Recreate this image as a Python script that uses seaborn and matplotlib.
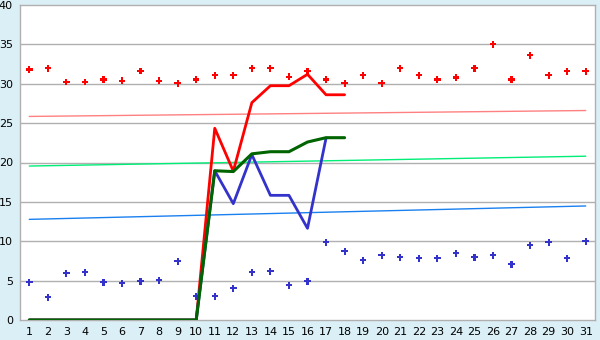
import matplotlib
matplotlib.use("Agg")
import matplotlib.pyplot as plt
import seaborn as sns
import pandas as pd

days = list(range(1, 32))

red_points = [31.8, 31.95, 30.2, 30.2, 30.55, 30.4, 31.6, 30.4, 30.05, 30.55,
              31.07, 31.07, 31.95, 31.95, 30.9, 31.58, 30.55, 30.05, 31.07, 30.05,
              31.95, 31.07, 30.55, 30.8, 31.95, 35.0, 30.55, 33.6, 31.07, 31.58, 31.58]
blue_points = [4.78, 2.88, 5.93, 6.05, 4.78, 4.65, 4.91, 5.04, 7.45, 3.0,
               3.0, 4.02, 6.05, 6.18, 4.4, 4.91, 9.86, 8.72, 7.58, 8.21,
               7.96, 7.83, 7.83, 8.46, 7.96, 8.21, 7.07, 9.48, 9.86, 7.83, 9.99]

red_line_days = list(range(1, 19))
red_line = [0, 0, 0, 0, 0, 0, 0, 0, 0, 0, 24.35, 18.9, 27.6, 29.75, 29.75, 31.2, 28.6, 28.6]
green_line_days = list(range(1, 19))
green_line = [0, 0, 0, 0, 0, 0, 0, 0, 0, 0, 18.95, 18.85, 21.1, 21.37, 21.37, 22.6, 23.15, 23.15]
blue_line_days = list(range(1, 18))
blue_line = [0, 0, 0, 0, 0, 0, 0, 0, 0, 0, 18.95, 14.77, 21.0, 15.83, 15.83, 11.64, 23.1]

trend_days = [1, 31]
trend_red = [25.85, 26.6]
trend_green = [19.55, 20.8]
trend_blue = [12.78, 14.48]

yticks = [0, 5, 10, 15, 20, 25, 30, 35, 40]

sns.set_style("white")
plt.rcParams['font.family'] = ['DejaVu Sans']

bg = "#dbeff6"
grid_c = "#b0b0b0"

fig = plt.figure(figsize=(6, 3.4), dpi=100, facecolor=bg)
ax = fig.add_axes([20 / 600, 20 / 340, 575 / 600, 315 / 340])
ax.set_facecolor("white")

for yv in yticks[1:-1]:
    ax.axhline(yv, color=grid_c, lw=1.0, zorder=0)

# trend lines
sns.lineplot(x=trend_days, y=trend_red, color="#ff8080", lw=1.0, ax=ax, zorder=1)
sns.lineplot(x=trend_days, y=trend_green, color="#00ee77", lw=1.0, ax=ax, zorder=1)
sns.lineplot(x=trend_days, y=trend_blue, color="#1a80f0", lw=1.0, ax=ax, zorder=1)

# scatter points
sns.scatterplot(x=days, y=red_points, color="#ff0000", marker="P", s=22,
                edgecolor="none", ax=ax, zorder=3)
sns.scatterplot(x=days, y=blue_points, color="#3333cc", marker="P", s=22,
                edgecolor="none", ax=ax, zorder=3)

# lines
sns.lineplot(x=red_line_days, y=red_line, color="#ff0000", lw=2.0, ax=ax, zorder=4, sort=False)
sns.lineplot(x=blue_line_days, y=blue_line, color="#3333cc", lw=2.0, ax=ax, zorder=4, sort=False)
sns.lineplot(x=green_line_days, y=green_line, color="#006400", lw=2.2, ax=ax, zorder=5, sort=False)

ax.set_xlim(0.5, 31.5)
ax.set_ylim(0, 40)
ax.set_xticks(days)
ax.set_xticklabels([str(d) for d in days])
ax.set_yticks(yticks)
ax.set_yticklabels([str(v) for v in yticks])
ax.tick_params(axis="both", which="both", length=4, width=1, color="#333333",
               labelsize=8, labelcolor="black", pad=2)
ax.tick_params(axis="x", direction="out", pad=1)
ax.tick_params(axis="y", direction="out", pad=1)
ax.set_xlabel("")
ax.set_ylabel("")
for side in ["left", "bottom", "top", "right"]:
    ax.spines[side].set_visible(True)
    ax.spines[side].set_color(grid_c)
    ax.spines[side].set_linewidth(1.0)

fig.savefig("out.png", dpi=100, facecolor=bg)
